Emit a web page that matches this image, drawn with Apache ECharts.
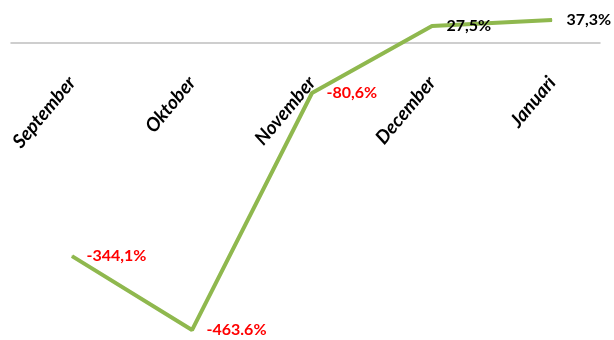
<!DOCTYPE html>
<html>
<head>
<meta charset="utf-8">
<script src="https://cdn.jsdelivr.net/npm/echarts@6/dist/echarts.min.js"></script>
<style>
  html, body { margin: 0; padding: 0; background: #ffffff; }
  #chart { width: 614px; height: 340px; }
</style>
</head>
<body>
<div id="chart"></div>
<script>
// Monthly growth (%)
const months = ['September', 'Oktober', 'November', 'December', 'Januari'];
const growth = [-344.1, -463.6, -80.6, 27.5, 37.3];
const growthLabels = ['-344,1%', '-463.6%', '-80,6%', '27,5%', '37,3%'];

const Y_MIN = -470;
const Y_MAX = 60;
const GRID_TOP = 6;
const GRID_BOTTOM = 6;
const H = 340;

// put the category axis (line + labels) on the zero value
const plotH = H - GRID_TOP - GRID_BOTTOM;
const zeroY = GRID_TOP + plotH * Y_MAX / (Y_MAX - Y_MIN);
const axisOffset = -((H - GRID_BOTTOM) - zeroY);

const chart = echarts.init(document.getElementById('chart'));

chart.setOption({
  animation: false,
  grid: [
    { left: 12, right: 2, top: GRID_TOP, bottom: GRID_BOTTOM, containLabel: false, outerBoundsMode: 'none' },
    // slightly narrower grid that only carries the zero baseline
    { left: 11, right: 14, top: GRID_TOP, bottom: GRID_BOTTOM, containLabel: false, outerBoundsMode: 'none' }
  ],
  xAxis: [{
    gridIndex: 0,
    type: 'category',
    data: months,
    boundaryGap: true,
    offset: axisOffset,
    axisLine: { show: false, onZero: false },
    axisTick: { show: false },
    axisLabel: {
      interval: 0,
      rotate: 50,
      margin: 36,
      color: '#000000',
      fontFamily: 'Lato',
      fontWeight: 'bold',
      fontStyle: 'italic',
      fontSize: 19
    }
  }, {
    gridIndex: 1,
    type: 'category',
    data: months,
    offset: axisOffset,
    axisLine: { onZero: false, lineStyle: { color: '#bfbfbf', width: 1.5 } },
    axisTick: { show: false },
    axisLabel: { show: false }
  }],
  yAxis: [{
    gridIndex: 0,
    type: 'value',
    min: Y_MIN,
    max: Y_MAX,
    show: false,
    splitLine: { show: false }
  }, {
    gridIndex: 1,
    type: 'value',
    min: Y_MIN,
    max: Y_MAX,
    show: false,
    splitLine: { show: false }
  }],
  series: [{
    type: 'line',
    xAxisIndex: 0,
    yAxisIndex: 0,
    data: growth.map((v, i) => ({
      value: v,
      label: {
        color: v < 0 ? '#ff0000' : '#000000',
        formatter: growthLabels[i]
      }
    })),
    symbol: 'circle',
    symbolSize: 1,
    showSymbol: true,
    itemStyle: { color: '#8fb84e' },
    lineStyle: { color: '#8fb84e', width: 4 },
    label: {
      show: true,
      position: 'right',
      distance: 14,
      fontFamily: 'Lato',
      fontWeight: 'bold',
      fontSize: 16
    },
    labelLayout: { hideOverlap: false }
  }]
});
</script>
</body>
</html>
